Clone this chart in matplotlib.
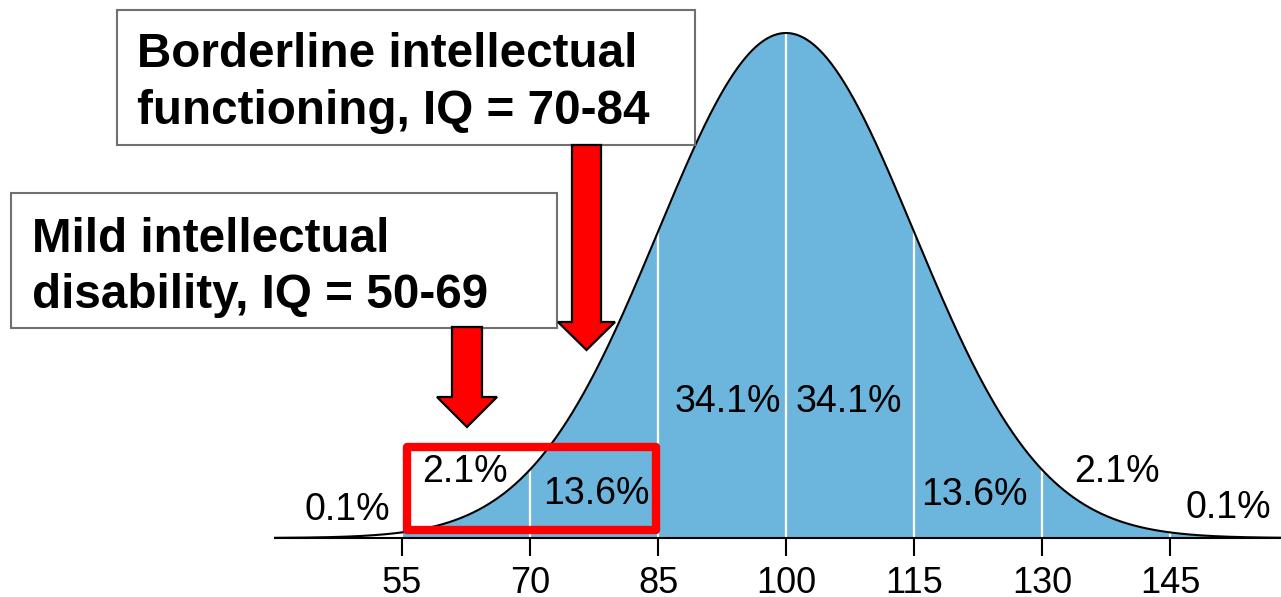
import numpy as np
import matplotlib
matplotlib.use("Agg")
import matplotlib.pyplot as plt
from matplotlib.patches import Rectangle, Polygon
from matplotlib.transforms import Affine2D

# ---- data ----
iq_mean = 100
iq_sd = 15
tick_values = [55, 70, 85, 100, 115, 130, 145]
tick_labels = ["55", "70", "85", "100", "115", "130", "145"]
pct_labels = ["0.1%", "2.1%", "13.6%", "34.1%", "34.1%", "13.6%", "2.1%", "0.1%"]
box1_lines = ["Borderline intellectual", "functioning, IQ = 70-84"]
box2_lines = ["Mild intellectual", "disability, IQ = 50-69"]
highlight_range = [55, 85]

W, H = 1281, 597
plt.rcParams['font.family'] = ['Liberation Sans', 'DejaVu Sans']
fig = plt.figure(figsize=(W / 100, H / 100), dpi=100)

base_px = 538
peak = 1 / (iq_sd * np.sqrt(2 * np.pi))
k = peak / (base_px - 33)          # density per pixel
ax = fig.add_axes([0, (H - base_px) / H, 1, base_px / H])

def iq_of(px):
    return 55 + (px - 402) * 15 / 128

def yd(py):
    return (base_px - py) * k

ax.set_xlim(iq_of(0), iq_of(W))
ax.set_ylim(0, base_px * k)

def pdf(x):
    return np.exp(-0.5 * ((x - iq_mean) / iq_sd) ** 2) / (iq_sd * np.sqrt(2 * np.pi))

x = np.linspace(iq_of(275), iq_of(W), 2000)
xf = x[x >= tick_values[0]]
ax.fill_between(xf, 0, pdf(xf), color="#6cb6dd", lw=0, zorder=1)
for t in tick_values:
    ax.plot([t, t], [0, pdf(t)], color="white", lw=1.6, zorder=2)
ax.plot(x, pdf(x), color="black", lw=1.5, zorder=3)

# axis
for s in ["top", "right", "left"]:
    ax.spines[s].set_visible(False)
ax.spines["bottom"].set_linewidth(1.5)
ax.spines["bottom"].set_bounds(iq_of(275), iq_of(W))
ax.set_yticks([])
ax.set_xticks(tick_values)
ax.set_xticklabels(tick_labels, fontsize=26)
ax.tick_params(axis="x", direction="out", length=13, width=1.5, pad=7)
ax.patch.set_alpha(0)

# percent labels
lab_px = [(347, 510), (465, 472), (596, 494), (728, 402),
          (849, 402), (974, 495), (1117, 472), (1228, 508)]
for (px, py), lab in zip(lab_px, pct_labels):
    ax.text(iq_of(px), yd(py), lab, fontsize=27, ha="center", va="center",
            color="black", zorder=5)

# pixel transform (origin top-left)
T = Affine2D().scale(1 / W, -1 / H).translate(0, 1) + fig.transFigure

# red highlight box
x0, x1 = highlight_range
rx0 = 402 + (x0 - 55) * 128 / 15 + 5
rx1 = 402 + (x1 - 55) * 128 / 15 - 2
fig.add_artist(Rectangle((rx0, 447), rx1 - rx0, 83, transform=T, fill=False,
                         edgecolor="#ff0000", lw=6.0, joinstyle="round", zorder=6))

# label boxes
def label_box(x0, y0, x1, y1, tx, baselines, lines):
    fig.add_artist(Rectangle((x0, y0), x1 - x0, y1 - y0, transform=T,
                             facecolor="white", edgecolor="#707070", lw=1.5, zorder=7))
    for b, line in zip(baselines, lines):
        fig.text(tx / W, 1 - b / H, line, fontsize=34.3, fontweight="bold",
                 ha="left", va="baseline", zorder=8)

def arrow(cx, top, head_y, tip_y, shaft_hw, head_hw):
    pts = [(cx - shaft_hw, top), (cx + shaft_hw, top), (cx + shaft_hw, head_y),
           (cx + head_hw, head_y), (cx, tip_y), (cx - head_hw, head_y),
           (cx - shaft_hw, head_y)]
    fig.add_artist(Polygon(pts, closed=True, transform=T, facecolor="#ff0000",
                           edgecolor="black", lw=1.6, joinstyle="miter", zorder=9))

label_box(117, 10, 695, 145, 137, [67, 124], box1_lines)
label_box(11, 193, 557, 328, 32, [252, 308], box2_lines)
arrow(586.5, 145, 322, 350, 14.5, 28.5)
arrow(467, 327, 397, 427, 15, 30)

fig.savefig("out.png", dpi=100)
